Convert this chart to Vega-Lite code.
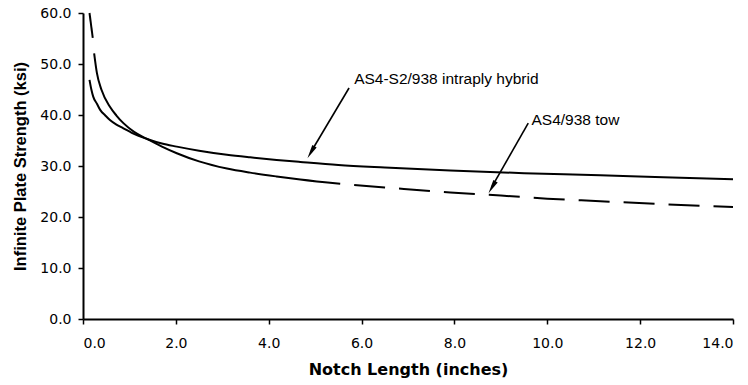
{
  "$schema": "https://vega.github.io/schema/vega-lite/v6.json",
  "width": 650,
  "height": 306,
  "autosize": {"type": "none"},
  "padding": {"left": 83, "top": 13, "right": 15, "bottom": 66},
  "background": "white",
  "config": {
    "view": {"stroke": null},
    "font": "Liberation Sans",
    "axis": {
      "grid": false,
      "domainColor": "black",
      "domainWidth": 2,
      "tickColor": "black",
      "tickWidth": 1.5,
      "tickSize": 5,
      "labelFont": "DejaVu Sans",
      "labelFontSize": 14,
      "labelColor": "black",
      "titleFont": "Liberation Sans",
      "titleFontSize": 16,
      "titleFontWeight": "bold",
      "titleColor": "black"
    }
  },
  "datasets": {
    "curves": [
      {"series": "hybrid", "part": "h", "x": 0.14, "y": 46.9},
      {"series": "hybrid", "part": "h", "x": 0.18, "y": 45.0},
      {"series": "hybrid", "part": "h", "x": 0.22, "y": 43.6},
      {"series": "hybrid", "part": "h", "x": 0.30, "y": 42.2},
      {"series": "hybrid", "part": "h", "x": 0.37, "y": 41.0},
      {"series": "hybrid", "part": "h", "x": 0.48, "y": 39.9},
      {"series": "hybrid", "part": "h", "x": 0.58, "y": 39.0},
      {"series": "hybrid", "part": "h", "x": 0.72, "y": 38.1},
      {"series": "hybrid", "part": "h", "x": 0.87, "y": 37.4},
      {"series": "hybrid", "part": "h", "x": 1.05, "y": 36.5},
      {"series": "hybrid", "part": "h", "x": 1.38, "y": 35.3},
      {"series": "hybrid", "part": "h", "x": 1.7, "y": 34.4},
      {"series": "hybrid", "part": "h", "x": 2.02, "y": 33.8},
      {"series": "hybrid", "part": "h", "x": 2.5, "y": 33.0},
      {"series": "hybrid", "part": "h", "x": 3.1, "y": 32.2},
      {"series": "hybrid", "part": "h", "x": 3.6, "y": 31.7},
      {"series": "hybrid", "part": "h", "x": 4.17, "y": 31.2},
      {"series": "hybrid", "part": "h", "x": 4.68, "y": 30.8},
      {"series": "hybrid", "part": "h", "x": 5.5, "y": 30.2},
      {"series": "hybrid", "part": "h", "x": 6.5, "y": 29.7},
      {"series": "hybrid", "part": "h", "x": 7.91, "y": 29.1},
      {"series": "hybrid", "part": "h", "x": 9.5, "y": 28.6},
      {"series": "hybrid", "part": "h", "x": 11.14, "y": 28.2},
      {"series": "hybrid", "part": "h", "x": 12.5, "y": 27.8},
      {"series": "hybrid", "part": "h", "x": 14.0, "y": 27.4},
      {"series": "tow", "part": "ta", "x": 0.14, "y": 60.0},
      {"series": "tow", "part": "ta", "x": 0.21, "y": 55.1},
      {"series": "tow", "part": "tb", "x": 0.24, "y": 52.1},
      {"series": "tow", "part": "tb", "x": 0.30, "y": 48.2},
      {"series": "tow", "part": "tb", "x": 0.40, "y": 44.9},
      {"series": "tow", "part": "tb", "x": 0.58, "y": 41.6},
      {"series": "tow", "part": "tb", "x": 0.72, "y": 39.9},
      {"series": "tow", "part": "tb", "x": 0.87, "y": 38.4},
      {"series": "tow", "part": "tb", "x": 1.1, "y": 36.7},
      {"series": "tow", "part": "tb", "x": 1.38, "y": 35.3},
      {"series": "tow", "part": "tb", "x": 1.7, "y": 33.8},
      {"series": "tow", "part": "tb", "x": 2.02, "y": 32.5},
      {"series": "tow", "part": "tb", "x": 2.5, "y": 30.9},
      {"series": "tow", "part": "tb", "x": 3.1, "y": 29.5},
      {"series": "tow", "part": "tb", "x": 3.6, "y": 28.7},
      {"series": "tow", "part": "tb", "x": 4.17, "y": 27.95},
      {"series": "tow", "part": "tb", "x": 4.68, "y": 27.35},
      {"series": "tow", "part": "tb", "x": 5.54, "y": 26.5},
      {"series": "tow", "part": "dash", "x": 5.54, "y": 26.5},
      {"series": "tow", "part": "dash", "x": 6.5, "y": 25.8},
      {"series": "tow", "part": "dash", "x": 7.91, "y": 24.8},
      {"series": "tow", "part": "dash", "x": 9.0, "y": 24.2},
      {"series": "tow", "part": "dash", "x": 10.0, "y": 23.6},
      {"series": "tow", "part": "dash", "x": 11.14, "y": 23.1},
      {"series": "tow", "part": "dash", "x": 12.5, "y": 22.5},
      {"series": "tow", "part": "dash", "x": 14.0, "y": 21.95}
    ],
    "notes": [
      {"label": "AS4-S2/938 intraply hybrid", "tx": 5.84, "ty": 47.1, "x1": 5.73, "y1": 45.3, "x2": 4.9, "y2": 32.6, "hx": 4.91, "hy": 32.7},
      {"label": "AS4/938 tow", "tx": 9.66, "ty": 39.0, "x1": 9.59, "y1": 38.4, "x2": 8.8, "y2": 25.8, "hx": 8.81, "hy": 25.84}
    ]
  },
  "layer": [
    {
      "data": {"name": "curves"},
      "transform": [{"filter": "datum.part !== 'dash'"}],
      "mark": {"type": "line", "color": "black", "strokeWidth": 2, "interpolate": "monotone"},
      "encoding": {
        "x": {"field": "x", "type": "quantitative", "scale": {"domain": [0, 14], "nice": false},
          "axis": {"values": [0, 2, 4, 6, 8, 10, 12, 14], "format": ".1f", "title": "Notch Length (inches)", "titleFont": "DejaVu Sans", "titleFontSize": 16, "labelPadding": 12, "titlePadding": 11}},
        "y": {"field": "y", "type": "quantitative", "scale": {"domain": [0, 60], "nice": false},
          "axis": {"values": [0, 10, 20, 30, 40, 50, 60], "format": ".1f", "title": "Infinite Plate Strength (ksi)", "titleFontSize": 16.5, "labelPadding": 7, "titlePadding": 11}},
        "detail": {"field": "part"}
      }
    },
    {
      "data": {"name": "curves"},
      "transform": [{"filter": "datum.part === 'dash'"}],
      "mark": {"type": "line", "color": "black", "strokeWidth": 2, "interpolate": "monotone", "strokeDash": [31, 14], "strokeDashOffset": 31},
      "encoding": {
        "x": {"field": "x", "type": "quantitative"},
        "y": {"field": "y", "type": "quantitative"}
      }
    },
    {
      "data": {"name": "notes"},
      "mark": {"type": "rule", "color": "black", "strokeWidth": 1.6},
      "encoding": {
        "x": {"field": "x1", "type": "quantitative"},
        "y": {"field": "y1", "type": "quantitative"},
        "x2": {"field": "x2"},
        "y2": {"field": "y2"}
      }
    },
    {
      "data": {"name": "notes"},
      "mark": {"type": "point", "shape": "M0,-1L0.36,1L-0.36,1Z", "filled": true, "color": "black", "opacity": 1, "size": 196, "angle": 210},
      "encoding": {
        "x": {"field": "hx", "type": "quantitative"},
        "y": {"field": "hy", "type": "quantitative"}
      }
    },
    {
      "data": {"name": "notes"},
      "mark": {"type": "text", "align": "left", "baseline": "middle", "font": "Liberation Sans", "fontSize": 15.5, "color": "black"},
      "encoding": {
        "x": {"field": "tx", "type": "quantitative"},
        "y": {"field": "ty", "type": "quantitative"},
        "text": {"field": "label"}
      }
    }
  ]
}
